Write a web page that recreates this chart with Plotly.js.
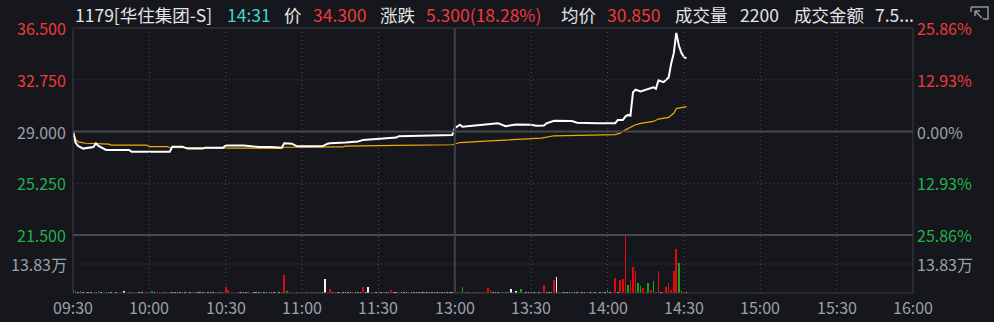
<!DOCTYPE html>
<html><head><meta charset="utf-8">
<script src="https://cdn.plot.ly/plotly-3.0.1.min.js"></script>
<style>html,body{margin:0;padding:0;background:#15171c;}#chart{width:994px;height:322px;}</style>
</head><body><div id="chart"></div>
<script>
// ---------- data ----------
const prevClose = 29.0;
const priceTicks = [36.5, 32.75, 29.0, 25.25, 21.5];
const volTick = 138300;
const volMax = 276600;
const timeTickLabels = ["09:30","10:00","10:30","11:00","11:30","13:00","13:30","14:00","14:30","15:00","15:30","16:00"];

const priceTimes = ["09:30","09:31","09:32","09:34","09:38","09:39","09:40","09:42","09:43","09:52","09:53","10:08","10:09","10:13","10:15","10:21","10:22","10:29","10:30","10:37","10:40","10:43","10:48","10:52","10:53","10:56","10:58","11:08","11:10","11:11","11:17","11:22","11:24","11:37","11:38","11:45","11:59","13:00","13:02","13:03","13:07","13:12","13:17","13:20","13:24","13:30","13:32","13:35","13:36","13:39","13:46","13:48","13:53","13:54","13:56","14:03","14:04","14:06","14:07","14:08","14:09","14:10","14:11","14:13","14:17","14:18","14:19","14:20","14:22","14:24","14:25","14:26","14:27","14:28","14:29","14:30","14:31"];
const priceValues = [29.00,28.20,27.95,27.76,27.88,28.15,27.95,27.78,27.66,27.66,27.54,27.54,27.90,27.90,27.76,27.76,27.83,27.83,27.98,27.98,27.93,27.88,27.88,27.83,28.15,28.12,27.93,27.93,28.12,28.15,28.20,28.27,28.39,28.56,28.66,28.70,28.75,29.25,29.49,29.34,29.41,29.49,29.59,29.39,29.51,29.49,29.41,29.44,29.59,29.78,29.76,29.63,29.59,29.63,29.59,29.59,29.83,29.83,30.08,30.20,30.15,31.85,32.03,31.90,32.10,32.20,32.10,32.71,32.58,32.91,33.93,34.66,36.15,35.25,34.70,34.40,34.30];

const avgTimes = ["09:30","09:31","09:32","09:35","09:44","09:45","09:59","10:00","10:07","10:08","10:30","10:51","10:53","11:16","11:17","11:36","11:37","11:59","13:00","13:02","13:12","13:19","13:26","13:34","13:39","13:56","14:03","14:05","14:07","14:11","14:13","14:18","14:20","14:24","14:26","14:27","14:31"];
const avgValues = [29.00,28.44,28.25,28.15,28.08,28.01,28.01,27.90,27.90,27.84,27.80,27.78,27.86,27.88,27.94,27.96,28.00,28.04,28.08,28.20,28.30,28.37,28.44,28.52,28.69,28.74,28.78,28.88,29.12,29.49,29.59,29.73,29.90,30.02,30.32,30.66,30.80];

// per-minute volume from 09:30 (slot 0) to 14:31
const volume = [
12000,9000,4000,8000,3000,3000,4000,4000,3000,6000,
8000,3000,0,5000,4000,4000,0,4000,0,5000,
10000,0,5000,5000,4000,0,4000,4000,0,6000,
5000,9000,4000,5000,5000,5000,4000,6000,5000,4000,
4000,4000,4000,6000,4000,5000,4000,4000,5000,4000,
4000,4000,4000,4000,4000,4000,5000,5000,4000,4000,
30000,16000,0,0,0,4000,4000,4000,4000,7000,
0,4000,4000,4000,5000,4000,4000,5000,4000,4000,
4000,4000,6000,87000,11000,5000,0,0,4000,4000,
4000,0,5000,4000,4000,7000,5000,4000,4000,68000,
4000,17000,4000,4000,4000,5000,4000,4000,4000,4000,
4000,4000,4000,4000,30000,4000,30000,4000,4000,4000,
4000,4000,6000,4000,4000,12000,4000,4000,4000,4000,
4000,4000,5000,4000,4000,4000,4000,4000,4000,4000,
4000,4000,4000,4000,4000,4000,4000,4000,4000,4000,
56000,4000,5000,30000,3000,4000,3000,3000,5000,3000,
3000,4000,4000,25000,16000,3000,4000,6000,3000,3000,
4000,3000,19000,4000,11000,4000,20000,3000,4000,4000,
4000,4000,4000,4000,5000,37000,4000,4000,4000,60000,
78000,4000,5000,4000,4000,4000,5000,4000,4000,6000,
4000,4000,4000,4000,5000,4000,4000,4000,5000,4000,
14000,4000,0,73000,6000,64000,68000,273000,40000,64000,
122000,106000,49000,35000,25000,4000,49000,16000,59000,4000,
106000,4000,4000,30000,46000,16000,106000,211000,141000,8000,
4000,4000];
// r = up, g = down, w = unchanged
const volDir = (
"ggwgwrwwrg"+"gwwgwwwwwg"+"wwggrwwwwr"+"ggwrgrwrgw"+"wwwgwgwrgw"+
"wwrwwwggwr"+"rrwwwwwwwg"+"wwwwgwwgww"+"rwrrggwwgr"+"rwgrrggrww"+
"rrwrwgwwww"+"rwwwrwwrrw"+"wwrwwrwwrw"+"wwrwwwwwww"+"wwwwwwwwww"+
"rgrgrwrrgr"+"rrrrrwwwrg"+"ggwrwggrww"+"wwrwgrwwwr"+"wrgwwwgwwg"+
"wwrwgwrwgw"+"gwwrwrrrgr"+"rrggrrgrgr"+"rwrrrrrrgg"+"gw").split("");

const header = [
  {t:"1179[华住集团-S]", x:73, c:"w"},
  {t:"14:31", x:225, c:"c"},
  {t:"价", x:282, c:"w"},
  {t:"34.300", x:311, c:"r"},
  {t:"涨跌", x:378, c:"w"},
  {t:"5.300(18.28%)", x:424, c:"r"},
  {t:"均价", x:559, c:"w"},
  {t:"30.850", x:605, c:"r"},
  {t:"成交量", x:673, c:"w"},
  {t:"2200", x:738, c:"w"},
  {t:"成交金额", x:792, c:"w"},
  {t:"7.5...", x:873, c:"w"}
];

// ---------- styling ----------
const BG = "#15171c";
const RED = "#f03a3a", GREEN = "#23b14d", GRAY = "#9ca1a9", WHITE = "#e4e4e4", CYAN = "#3fd6d6";
const BAR = {r:"#e00a0a", g:"#15a515", w:"#f4f4f4"};
const FONT = "Noto Sans CJK SC, Noto Sans, sans-serif";
const L = 73, R = 913, T = 28, B = 293;
const W = R - L, H = B - T;
const volFrac = (B - 235) / H;

function slot(t){
  const [h,m] = t.split(":").map(Number);
  const mins = h*60+m;
  return mins >= 780 ? 150 + (mins-780) : mins - 570;
}
const px2paperX = p => (p - L) / W;
const px2paperY = p => (B - p) / H;

const traces = [
  {type:"bar", x: volume.map((v,i)=>i), y: volume, yaxis:"y2", width:0.62,
   marker:{color: volDir.map(d=>BAR[d]), line:{width:0}}, hoverinfo:"skip"},
  {type:"scatter", mode:"lines", x: avgTimes.map(slot), y: avgValues,
   line:{color:"#f2a80c", width:1.2}, hoverinfo:"skip"},
  {type:"scatter", mode:"lines", x: priceTimes.map(slot), y: priceValues,
   line:{color:"#ffffff", width:2}, hoverinfo:"skip"}
];

const tickSlots = timeTickLabels.map(slot);
tickSlots[tickSlots.length-1] = 330; tickSlots[0] = 0;
const gridCol = "#4a4d54", frameCol = "#3b3d43";
const shapes = [];
tickSlots.forEach((s,i)=>{
  if (i===0 || i===tickSlots.length-1) return;
  if (s === 150) {
    shapes.push({type:"line", xref:"x", yref:"paper", x0:s, x1:s, y0:0, y1:1, line:{color:"#3e4046", width:2}});
  } else {
    shapes.push({type:"line", xref:"x", yref:"paper", x0:s, x1:s, y0:0, y1:1, line:{color:gridCol, width:1, dash:"1px,3px"}});
  }
});
[32.75, 25.25].forEach(v=>shapes.push({type:"line", xref:"paper", yref:"y", x0:0, x1:1, y0:v, y1:v, line:{color:gridCol, width:1, dash:"1px,3px"}}));
shapes.push({type:"line", xref:"paper", yref:"y2", x0:0, x1:1, y0:volTick, y1:volTick, line:{color:gridCol, width:1, dash:"1px,3px"}});
shapes.push({type:"line", xref:"paper", yref:"y", x0:0, x1:1, y0:prevClose, y1:prevClose, line:{color:"#46484e", width:2}});
shapes.push({type:"line", xref:"paper", yref:"paper", x0:0, x1:1, y0:volFrac, y1:volFrac, line:{color:"#46484e", width:2}});
shapes.push({type:"rect", xref:"paper", yref:"paper", x0:0, x1:1, y0:0, y1:1, line:{color:frameCol, width:1}});
// expand icon (top right)
const ix = p => px2paperX(p), iy = p => px2paperY(p);
shapes.push({type:"path", xref:"paper", yref:"paper",
  path:`M ${ix(971)} ${iy(7)} L ${ix(988)} ${iy(7)} L ${ix(988)} ${iy(19)} L ${ix(983)} ${iy(19)}`,
  line:{color:"#8e939b", width:1.5}});
shapes.push({type:"path", xref:"paper", yref:"paper",
  path:`M ${ix(971)} ${iy(7)} L ${ix(971)} ${iy(12)}`, line:{color:"#8e939b", width:1.5}});
shapes.push({type:"path", xref:"paper", yref:"paper",
  path:`M ${ix(982)} ${iy(18)} L ${ix(975)} ${iy(11)} M ${ix(975)} ${iy(11)} L ${ix(975)} ${iy(16)} M ${ix(975)} ${iy(11)} L ${ix(980)} ${iy(11)}`,
  line:{color:"#8e939b", width:1.5}});

const annotations = [];
const colorFor = v => v > prevClose ? RED : (v < prevClose ? GREEN : GRAY);
priceTicks.forEach(v=>{
  annotations.push({xref:"paper", yref:"y", x:px2paperX(68), y:v, xanchor:"right", yanchor:"middle",
    text: v.toFixed(3), showarrow:false, font:{family:FONT, size:16, color:colorFor(v)}});
  const pct = Math.abs((v - prevClose)/prevClose*100).toFixed(2) + "%";
  annotations.push({xref:"paper", yref:"y", x:px2paperX(915), y:v, xanchor:"left", yanchor:"middle",
    text: pct, showarrow:false, font:{family:FONT, size:16, color:colorFor(v)}});
});
const volText = (volTick/10000).toFixed(2) + "万";
annotations.push({xref:"paper", yref:"y2", x:px2paperX(69), y:volTick, xanchor:"right", yanchor:"middle",
  text: volText, showarrow:false, font:{family:FONT, size:16, color:GRAY}});
annotations.push({xref:"paper", yref:"y2", x:px2paperX(915), y:volTick, xanchor:"left", yanchor:"middle",
  text: volText, showarrow:false, font:{family:FONT, size:16, color:GRAY}});
timeTickLabels.forEach((t,i)=>{
  annotations.push({xref:"x", yref:"paper", x:tickSlots[i], y:px2paperY(307), xanchor:"center", yanchor:"middle",
    text:t, showarrow:false, font:{family:FONT, size:16, color:GRAY}});
});
const hc = {w:WHITE, r:RED, c:CYAN};
header.forEach(h=>{
  annotations.push({xref:"paper", yref:"paper", x:px2paperX(h.x), y:px2paperY(14), xanchor:"left", yanchor:"middle",
    text:h.t, showarrow:false, font:{family:FONT, size:17.5, color:hc[h.c]}});
});

const layout = {
  width:994, height:322,
  margin:{l:L, r:994-R, t:T, b:322-B, pad:0},
  paper_bgcolor:BG, plot_bgcolor:BG, showlegend:false,
  bargap:0,
  xaxis:{range:[0,330], showgrid:false, zeroline:false, showticklabels:false, showline:false, fixedrange:true, anchor:"y2"},
  yaxis:{domain:[volFrac,1], range:[21.5,36.5], showgrid:false, zeroline:false, showticklabels:false, showline:false},
  yaxis2:{domain:[0,volFrac], range:[0,volMax], showgrid:false, zeroline:false, showticklabels:false, showline:false},
  shapes, annotations
};
Plotly.newPlot("chart", traces, layout, {staticPlot:true, displayModeBar:false});
</script></body></html>
